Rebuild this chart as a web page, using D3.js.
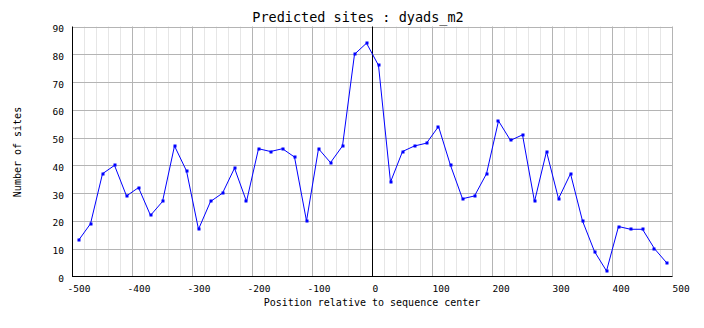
<!DOCTYPE html>
<html>
<head>
<meta charset="utf-8">
<script src="https://cdn.jsdelivr.net/npm/d3@7"></script>
<style>
  html, body { margin: 0; padding: 0; background: #fff; }
  svg text { font-family: "DejaVu Sans Mono", monospace; fill: #000; }
</style>
</head>
<body>
<svg id="chart" width="704" height="328"></svg>
<script>
const positions = [-490,-470,-450,-430,-410,-390,-370,-350,-330,-310,-290,-270,-250,-230,-210,-190,-170,-150,-130,-110,-90,-70,-50,-30,-10,10,30,50,70,90,110,130,150,170,190,210,230,250,270,290,310,330,350,370,390,410,430,450,470,490];
const sites = [13,19,37,40,29,32,22,27,47,38,17,27,30,39,27,46,45,46,43,20,46,41,47,80,84,76,34,45,47,48,54,40,28,29,37,56,49,51,27,45,28,37,20,9,2,18,17,17,10,5];
const xTicks = [-500,-400,-300,-200,-100,0,100,200,300,400,500];
const yTicks = [0,10,20,30,40,50,60,70,80,90];
const titleText = "Predicted sites : dyads_m2";
const xTitle = "Position relative to sequence center";
const yTitle = "Number of sites";

const svg = d3.select("#chart");
const x = d3.scaleLinear().domain([-500, 500]).range([72.5, 672.5]);
const y = d3.scaleLinear().domain([0, 90]).range([276.5, 26.5]);

// minor vertical grid
const minor = d3.range(-500, 501, 20).filter(v => v % 100 !== 0);
svg.append("g").selectAll("line").data(minor).join("line")
  .attr("x1", d => x(d)).attr("x2", d => x(d))
  .attr("y1", y(90)).attr("y2", y(0))
  .attr("stroke", "#e6e6e6").attr("stroke-width", 1);

// major grid
svg.append("g").selectAll("line").data(xTicks.filter(v => v !== -500 && v !== 0)).join("line")
  .attr("x1", d => x(d)).attr("x2", d => x(d))
  .attr("y1", y(90)).attr("y2", y(0))
  .attr("stroke", "#b4b4b4").attr("stroke-width", 1);
svg.append("g").selectAll("line").data(yTicks.filter(v => v !== 0)).join("line")
  .attr("x1", x(-500)).attr("x2", x(500))
  .attr("y1", d => Math.round(y(d)) + 0.5).attr("y2", d => Math.round(y(d)) + 0.5)
  .attr("stroke", "#b4b4b4").attr("stroke-width", 1);

// zero line
svg.append("line")
  .attr("x1", x(0)).attr("x2", x(0)).attr("y1", y(90)).attr("y2", y(0))
  .attr("stroke", "#000").attr("stroke-width", 1);

// axes lines
svg.append("line").attr("x1", x(-500)).attr("x2", x(-500)).attr("y1", y(90)).attr("y2", y(0)+0.5)
  .attr("stroke", "#000");
svg.append("line").attr("x1", x(-500)).attr("x2", x(500)).attr("y1", y(0)).attr("y2", y(0))
  .attr("stroke", "#000");

// y tick labels
svg.append("g").selectAll("text").data(yTicks).join("text")
  .attr("x", 64).attr("y", d => y(d) + 5.5)
  .attr("text-anchor", "end").attr("font-size", "9.5px")
  .text(d => d);

// x tick labels
svg.append("g").selectAll("text").data(xTicks).join("text")
  .attr("x", d => x(d) + (d < 0 ? -5 : 0)).attr("y", 292)
  .attr("text-anchor", "start").attr("font-size", "9.5px")
  .text(d => d);

// line + markers
const line = d3.line().x((d, i) => x(positions[i])).y(d => y(d));
svg.append("path").datum(sites)
  .attr("d", line).attr("fill", "none").attr("stroke", "#0000ff").attr("stroke-width", 1);
svg.append("g").selectAll("rect").data(sites).join("rect")
  .attr("x", (d, i) => Math.round(x(positions[i])) - 1.5)
  .attr("y", d => Math.round(y(d)) - 1.5)
  .attr("width", 3).attr("height", 3)
  .attr("fill", "#0000ff");

// titles
svg.append("text").attr("x", 358).attr("y", 22).attr("text-anchor", "middle")
  .attr("font-size", "13.5px").text(titleText);
svg.append("text").attr("x", 372).attr("y", 306).attr("text-anchor", "middle")
  .attr("font-size", "10px").text(xTitle);
svg.append("text").attr("transform", "translate(21,152) rotate(-90)")
  .attr("text-anchor", "middle").attr("font-size", "10px").text(yTitle);
</script>
</body>
</html>
